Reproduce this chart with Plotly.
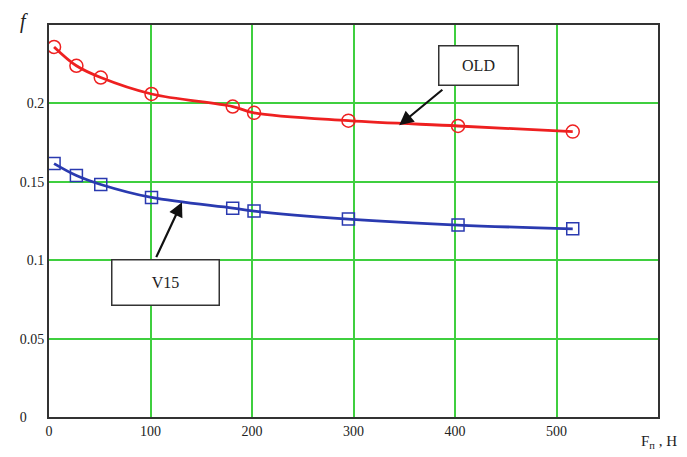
import plotly.graph_objects as go

force = [5, 27, 51, 101, 181, 202, 295, 403, 516]
f_old = [0.236, 0.224, 0.2165, 0.206, 0.198, 0.194, 0.189, 0.1856, 0.182]
f_v15 = [0.1616, 0.154, 0.1483, 0.140, 0.1332, 0.1313, 0.1262, 0.1224, 0.120]
x_ticks = [0, 100, 200, 300, 400, 500]
y_ticks = [0, 0.05, 0.1, 0.15, 0.2]
y_tick_labels = ["0\u00a0\u00a0\u00a0\u00a0\u00a0", "0.05", "0.1", "0.15", "0.2"]

SERIF = "Liberation Serif, Times New Roman, serif"
GRID = "#3fcf3f"

fig = go.Figure()
fig.add_trace(go.Scatter(
    x=force, y=f_old, mode="lines+markers", name="OLD",
    line=dict(color="#ee2020", width=2.8, shape="spline"),
    marker=dict(symbol="circle-open", size=13, color="#ee2020", line=dict(width=1.5)),
))
fig.add_trace(go.Scatter(
    x=force, y=f_v15, mode="lines+markers", name="V15",
    line=dict(color="#2a3ab0", width=2.8, shape="spline"),
    marker=dict(symbol="square-open", size=12, color="#2a3ab0", line=dict(width=1.5)),
))

axis_common = dict(
    showgrid=True, gridcolor=GRID, gridwidth=1.5,
    showline=True, linecolor="#333333", linewidth=2, mirror=True,
    zeroline=False, ticks="",
    tickfont=dict(family=SERIF, size=14, color="#222222"),
)
fig.update_xaxes(range=[0, 600], tickvals=x_ticks, **axis_common)
fig.update_yaxes(range=[0, 0.25], tickvals=y_ticks, ticktext=y_tick_labels, **axis_common)

annotations = [
    # OLD label box and arrow
    dict(x=423, y=0.224, xref="x", yref="y", text="OLD", showarrow=False,
         font=dict(family=SERIF, size=16, color="#222222"),
         bordercolor="#333333", borderwidth=1.5, bgcolor="white", width=76, height=36),
    dict(x=345, y=0.186, ax=389, ay=0.2095, xref="x", yref="y", axref="x", ayref="y",
         text="", showarrow=True, arrowhead=2, arrowsize=1.3, arrowwidth=2.2, arrowcolor="#111111"),
    # V15 label box and arrow
    dict(x=115, y=0.0858, xref="x", yref="y", text="V15", showarrow=False,
         font=dict(family=SERIF, size=16, color="#222222"),
         bordercolor="#333333", borderwidth=1.5, bgcolor="white", width=104, height=42),
    dict(x=131, y=0.137, ax=105, ay=0.101, xref="x", yref="y", axref="x", ayref="y",
         text="", showarrow=True, arrowhead=2, arrowsize=1.3, arrowwidth=2.2, arrowcolor="#111111"),
    # axis titles (pixel positions, converted below)
    dict(x=17, y=22, xref="paper", yref="paper", text="<i>f</i>", showarrow=False,
         xanchor="center", yanchor="middle",
         font=dict(family=SERIF, size=20, color="#222222")),
    dict(x=659, y=442, xref="paper", yref="paper", text="F<sub>п</sub> , Н", showarrow=False,
         xanchor="center", yanchor="middle",
         font=dict(family=SERIF, size=15, color="#222222")),
]

# page has an 8px body margin; target plot area is x 42..658, y 25..417 in the screenshot
OFF = 8
W, H = 687, 457
PL, PR, PT, PB = 42, 658, 25, 417
ML, MR, MT, MB = PL - OFF, W + OFF - PR, PT - OFF, H + OFF - PB
pw, ph = PR - PL, PB - PT
for a in annotations:
    if a.get("xref") == "paper":
        px, py = a["x"], a["y"]
        a["x"] = (px - PL) / pw
        a["y"] = (PB - py) / ph

fig.update_layout(
    width=W, height=H,
    margin=dict(l=ML, r=MR, t=MT, b=MB),
    paper_bgcolor="white", plot_bgcolor="white",
    showlegend=False,
    annotations=annotations,
)

fig.write_html("out.html")
